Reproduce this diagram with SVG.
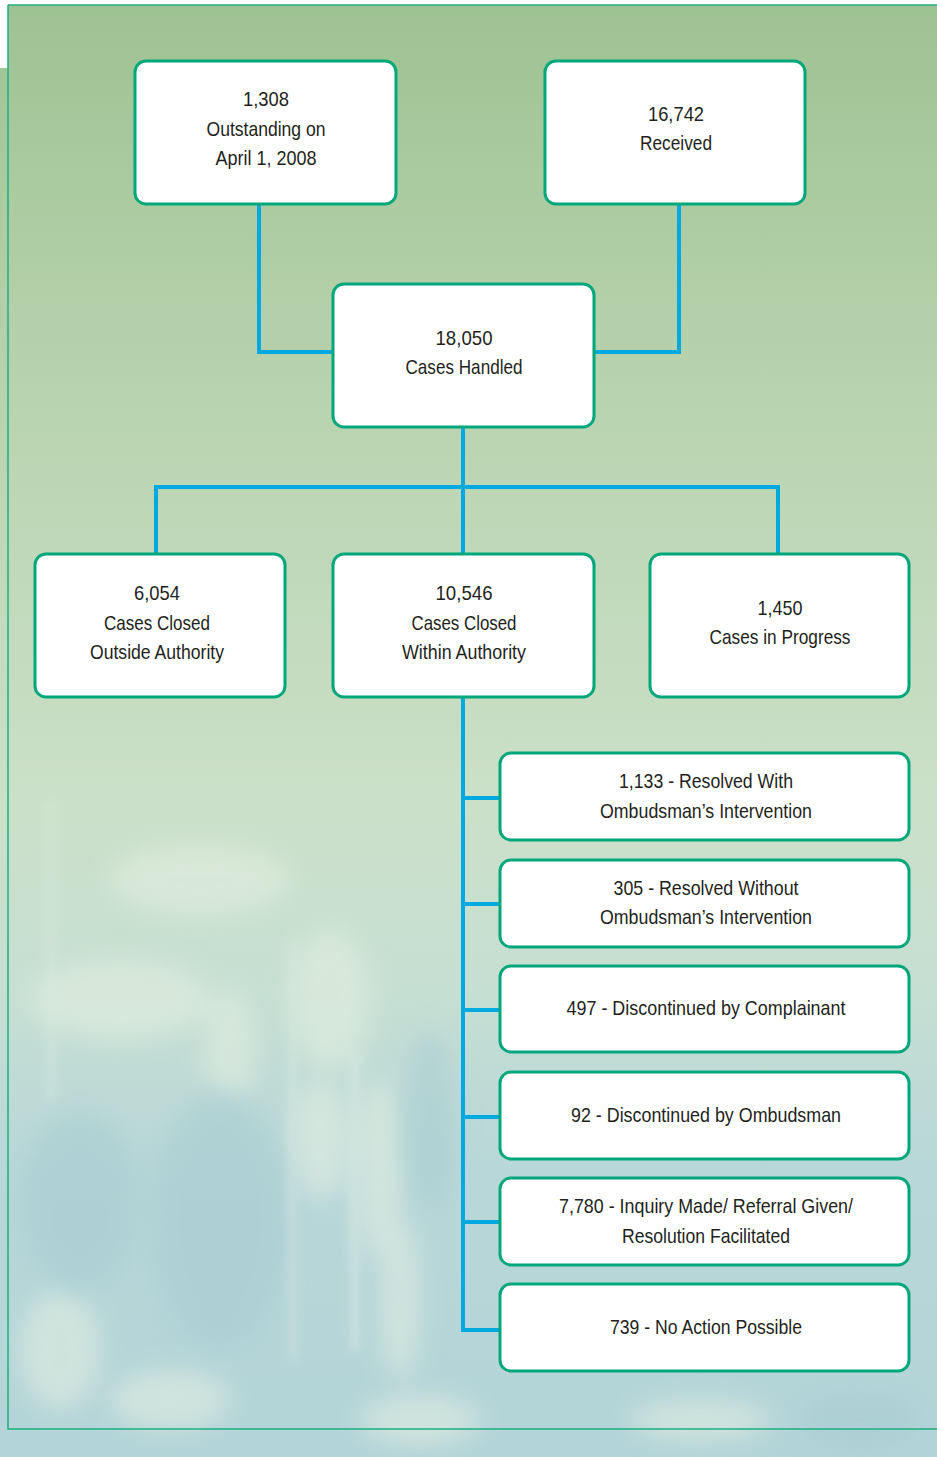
<svg xmlns="http://www.w3.org/2000/svg" width="937" height="1457" viewBox="0 0 937 1457">
<defs>
<linearGradient id="bg" x1="0" y1="0" x2="0" y2="1457" gradientUnits="userSpaceOnUse">
<stop offset="0" stop-color="#9dc292"/>
<stop offset="0.2" stop-color="#b2cfa8"/>
<stop offset="0.35" stop-color="#bed7b7"/>
<stop offset="0.55" stop-color="#cbe0c8"/>
<stop offset="0.68" stop-color="#c6dfd3"/>
<stop offset="0.8" stop-color="#b8d7d8"/>
<stop offset="1" stop-color="#b3d4d8"/>
</linearGradient>
<filter id="blur" x="-50%" y="-50%" width="200%" height="200%"><feGaussianBlur stdDeviation="12"/></filter>
<filter id="blur2" x="-50%" y="-50%" width="200%" height="200%"><feGaussianBlur stdDeviation="5"/></filter>
</defs>
<style>
.box{fill:#ffffff;stroke:#00a77a;stroke-width:3}
.con{fill:none;stroke:#00a9e0;stroke-width:4;stroke-linejoin:miter}
text{font-family:"Liberation Sans",Arial,sans-serif;font-size:21px;fill:#231f20;text-anchor:middle}
</style>
<rect width="937" height="1457" fill="#ffffff"/>
<path d="M8,5 H937 V1457 H0 V68 H8 Z" fill="url(#bg)"/>
<g id="texture" opacity="0.55">
<g filter="url(#blur)" fill="#e6f0e2">
<ellipse cx="120" cy="1000" rx="90" ry="40"/>
<ellipse cx="230" cy="1050" rx="25" ry="60"/>
<ellipse cx="330" cy="1000" rx="40" ry="70"/>
<ellipse cx="320" cy="1140" rx="30" ry="60"/>
<ellipse cx="380" cy="1170" rx="25" ry="90"/>
<ellipse cx="400" cy="1300" rx="20" ry="80"/>
<ellipse cx="60" cy="1350" rx="40" ry="60"/>
<ellipse cx="170" cy="1400" rx="60" ry="30"/>
<ellipse cx="200" cy="880" rx="90" ry="35"/>
<ellipse cx="420" cy="1420" rx="60" ry="25"/>
<ellipse cx="700" cy="1420" rx="70" ry="20"/>
</g>
<g filter="url(#blur)" fill="#a8ccd2">
<ellipse cx="80" cy="1200" rx="60" ry="90"/>
<ellipse cx="220" cy="1220" rx="70" ry="130"/>
<ellipse cx="430" cy="1120" rx="25" ry="90"/>
<ellipse cx="860" cy="1420" rx="60" ry="30"/>
</g>
<g filter="url(#blur2)" fill="#e9f2e8" opacity="0.7">
<rect x="290" y="940" width="6" height="420"/>
<rect x="350" y="1050" width="10" height="300"/>
<rect x="48" y="800" width="6" height="300"/>
</g>
</g>
<path d="M8,5 H937 M8,5 V1429 H937" fill="none" stroke="#1fae7f" stroke-width="1.5"/>
<g id="connectors">
<path class="con" d="M259,204 V352 H333"/>
<path class="con" d="M679,204 V352 H594"/>
<path class="con" d="M463,427 V554"/>
<path class="con" d="M156,554 V487 H778 V554"/>
<path class="con" d="M463,697 V1330 H500"/>
<path class="con" d="M463,798 H500"/>
<path class="con" d="M463,904 H500"/>
<path class="con" d="M463,1010 H500"/>
<path class="con" d="M463,1117 H500"/>
<path class="con" d="M463,1222 H500"/>
</g>
<g id="n-outstanding"><rect class="box" x="135" y="61" width="261" height="143" rx="11"/>
<text x="266" y="106" textLength="46" lengthAdjust="spacingAndGlyphs">1,308</text><text x="266" y="136" textLength="119" lengthAdjust="spacingAndGlyphs">Outstanding on</text><text x="266" y="165" textLength="101" lengthAdjust="spacingAndGlyphs">April 1, 2008</text></g>
<g id="n-received"><rect class="box" x="545" y="61" width="260" height="143" rx="11"/>
<text x="676" y="121" textLength="56" lengthAdjust="spacingAndGlyphs">16,742</text><text x="676" y="150" textLength="72" lengthAdjust="spacingAndGlyphs">Received</text></g>
<g id="n-handled"><rect class="box" x="333" y="284" width="261" height="143" rx="11"/>
<text x="464" y="345" textLength="57" lengthAdjust="spacingAndGlyphs">18,050</text><text x="464" y="374" textLength="117" lengthAdjust="spacingAndGlyphs">Cases Handled</text></g>
<g id="n-outside"><rect class="box" x="35" y="554" width="250" height="143" rx="11"/>
<text x="157" y="600" textLength="46" lengthAdjust="spacingAndGlyphs">6,054</text><text x="157" y="630" textLength="106" lengthAdjust="spacingAndGlyphs">Cases Closed</text><text x="157" y="659" textLength="134" lengthAdjust="spacingAndGlyphs">Outside Authority</text></g>
<g id="n-within"><rect class="box" x="333" y="554" width="261" height="143" rx="11"/>
<text x="464" y="600" textLength="57" lengthAdjust="spacingAndGlyphs">10,546</text><text x="464" y="630" textLength="105" lengthAdjust="spacingAndGlyphs">Cases Closed</text><text x="464" y="659" textLength="124" lengthAdjust="spacingAndGlyphs">Within Authority</text></g>
<g id="n-progress"><rect class="box" x="650" y="554" width="259" height="143" rx="11"/>
<text x="780" y="615" textLength="45" lengthAdjust="spacingAndGlyphs">1,450</text><text x="780" y="644" textLength="141" lengthAdjust="spacingAndGlyphs">Cases in Progress</text></g>
<g id="n-r1"><rect class="box" x="500" y="753" width="409" height="87" rx="11"/>
<text x="706" y="788" textLength="174" lengthAdjust="spacingAndGlyphs">1,133 - Resolved With</text><text x="706" y="818" textLength="212" lengthAdjust="spacingAndGlyphs">Ombudsman’s Intervention</text></g>
<g id="n-r2"><rect class="box" x="500" y="860" width="409" height="87" rx="11"/>
<text x="706" y="895" textLength="185" lengthAdjust="spacingAndGlyphs">305 - Resolved Without</text><text x="706" y="924" textLength="212" lengthAdjust="spacingAndGlyphs">Ombudsman’s Intervention</text></g>
<g id="n-r3"><rect class="box" x="500" y="966" width="409" height="86" rx="11"/>
<text x="706" y="1015" textLength="279" lengthAdjust="spacingAndGlyphs">497 - Discontinued by Complainant</text></g>
<g id="n-r4"><rect class="box" x="500" y="1072" width="409" height="87" rx="11"/>
<text x="706" y="1122" textLength="270" lengthAdjust="spacingAndGlyphs">92 - Discontinued by Ombudsman</text></g>
<g id="n-r5"><rect class="box" x="500" y="1178" width="409" height="87" rx="11"/>
<text x="706" y="1213" textLength="294" lengthAdjust="spacingAndGlyphs">7,780 - Inquiry Made/ Referral Given/</text><text x="706" y="1243" textLength="168" lengthAdjust="spacingAndGlyphs">Resolution Facilitated</text></g>
<g id="n-r6"><rect class="box" x="500" y="1284" width="409" height="87" rx="11"/>
<text x="706" y="1334" textLength="192" lengthAdjust="spacingAndGlyphs">739 - No Action Possible</text></g>
</svg>
